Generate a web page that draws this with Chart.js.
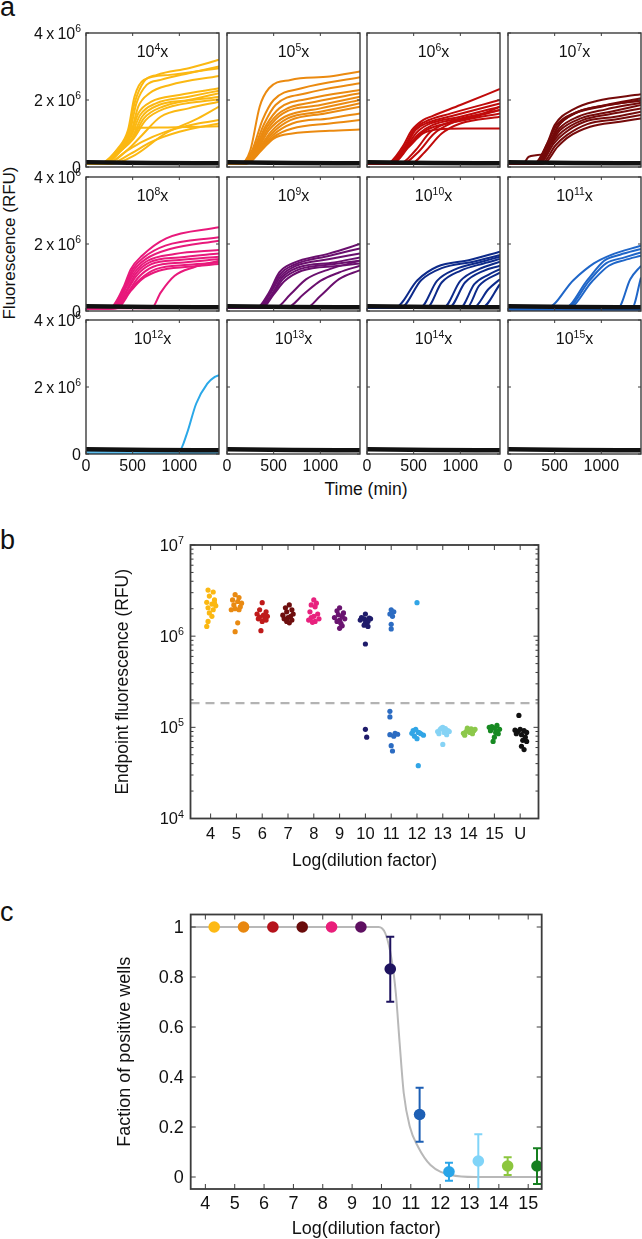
<!DOCTYPE html>
<html>
<head>
<meta charset="utf-8">
<title>Dilution series: amplification, endpoint fluorescence, positive fraction</title>
<script src="https://cdn.jsdelivr.net/npm/chart.js@4.4.1/dist/chart.umd.min.js"></script>
<style>
  html, body { margin: 0; padding: 0; background: #fff; }
  #fig { position: relative; width: 642px; height: 1239px; overflow: hidden; background: #fff;
         font-family: "Liberation Sans", Arial, Helvetica, sans-serif; color: #111; }
  #fig canvas { position: absolute; }
  .txt { position: absolute; white-space: nowrap; line-height: 1; }
  .mid { transform: translate(-50%, -50%); }
  .rot { transform: translate(-50%, -50%) rotate(-90deg); }
</style>
</head>
<body>
<div id="fig">
  <div class="txt" style="left:0;top:-6px;font-size:27px">a</div>
  <div class="txt" style="left:0;top:527px;font-size:27px">b</div>
  <div class="txt" style="left:0;top:899px;font-size:27px">c</div>
  <div class="txt rot" style="left:9px;top:243px;font-size:17px">Fluorescence (RFU)</div>
  <div class="txt mid" style="left:366px;top:490px;font-size:17.5px">Time (min)</div>
</div>
<script>
// ---------- Panel a: amplification curves, [time (min), fluorescence (10^6 RFU)] ----------
const dilutionExp = [4, 5, 6, 7, 8, 9, 10, 11, 12, 13, 14, 15];
const curveColors = ['#FBB812', '#EB8A10', '#C00A0A', '#750A0A', '#E8197B', '#6A0F6E',
                     '#0D2A8A', '#1F66C8', '#2AA8E8', '#7FD3F7', '#8CC63F', '#138A1E'];

const wells1e4 = [
  [[0,.1],[150,.1],[330,.5],[450,.95],[520,1.9],[620,2.55],[760,2.75],[1100,2.95],[1425,3.2]],
  [[0,.1],[160,.1],[340,.5],[460,.95],[540,1.9],[650,2.45],[800,2.6],[1100,2.8],[1425,3.0]],
  [[0,.1],[170,.1],[350,.5],[470,.9],[560,1.8],[680,2.2],[900,2.45],[1425,2.72]],
  [[0,.1],[170,.1],[350,.5],[470,.9],[560,1.6],[700,1.95],[1000,2.15],[1425,2.35]],
  [[0,.1],[180,.1],[360,.5],[480,.9],[580,1.55],[750,1.9],[1100,2.1],[1425,2.28]],
  [[0,.1],[190,.1],[370,.5],[490,.85],[600,1.5],[780,1.85],[1100,2.0],[1425,2.2]],
  [[0,.1],[200,.1],[380,.5],[500,.85],[620,1.45],[820,1.8],[1425,2.1]],
  [[0,.1],[200,.1],[380,.5],[510,.85],[640,1.4],[850,1.75],[1425,2.02]],
  [[0,.1],[180,.1],[360,.55],[450,1.0],[480,1.15],[800,1.18],[1425,1.22]],
  [[0,.1],[220,.1],[420,.45],[600,.75],[850,1.05],[1200,1.3],[1425,1.4]],
  [[0,.1],[250,.1],[480,.4],[700,.75],[1000,1.05],[1425,1.3]],
  [[0,.1],[280,.1],[520,.35],[850,1.0],[1200,1.45],[1425,1.8]],
  [[0,.1],[230,.1],[440,.5],[600,.95],[800,1.5],[1100,1.75],[1425,1.95]],
  [[0,.1],[160,.1],[340,.55],[450,1.1],[520,2.1],[620,2.6],[900,2.75],[1425,2.95]]
];
const wells1e5 = [
  [[0,.1],[140,.1],[250,.5],[350,1.8],[450,2.35],[680,2.6],[1100,2.7],[1425,2.85]],
  [[0,.1],[150,.1],[270,.5],[380,1.4],[500,2.0],[800,2.35],[1425,2.68]],
  [[0,.1],[160,.1],[280,.5],[400,1.3],[520,1.85],[850,2.2],[1425,2.5]],
  [[0,.1],[160,.1],[290,.5],[420,1.25],[560,1.75],[900,2.05],[1425,2.3]],
  [[0,.1],[170,.1],[300,.5],[430,1.2],[580,1.65],[950,1.95],[1425,2.2]],
  [[0,.1],[170,.1],[310,.5],[440,1.15],[600,1.6],[1000,1.85],[1425,2.1]],
  [[0,.1],[180,.1],[320,.5],[450,1.1],[620,1.5],[1000,1.75],[1425,2.0]],
  [[0,.1],[180,.1],[330,.5],[470,1.05],[650,1.45],[1000,1.65],[1425,1.9]],
  [[0,.1],[190,.1],[340,.5],[480,1.0],[680,1.4],[1050,1.6],[1425,1.8]],
  [[0,.1],[200,.1],[350,.5],[490,.95],[700,1.3],[1100,1.45],[1425,1.6]],
  [[0,.1],[200,.1],[360,.5],[500,.9],[700,1.15],[1100,1.3],[1425,1.4]],
  [[0,.1],[210,.1],[370,.5],[500,.85],[700,1.0],[1100,1.08],[1425,1.12]]
];
const wells1e6 = [
  [[0,.1],[210,.1],[380,.6],[480,1.1],[600,1.4],[700,1.52],[1000,1.85],[1425,2.33]],
  [[0,.1],[220,.1],[400,.6],[500,1.1],[620,1.35],[900,1.6],[1425,2.0]],
  [[0,.1],[230,.1],[410,.6],[520,1.1],[650,1.32],[950,1.55],[1425,1.9]],
  [[0,.1],[240,.1],[420,.6],[540,1.05],[680,1.3],[1000,1.5],[1425,1.8]],
  [[0,.1],[250,.1],[430,.6],[560,1.0],[700,1.25],[1000,1.45],[1425,1.7]],
  [[0,.1],[260,.1],[440,.6],[580,1.0],[720,1.2],[1050,1.4],[1425,1.6]],
  [[0,.1],[270,.1],[450,.6],[600,1.0],[750,1.12],[1050,1.15],[1425,1.15]],
  [[0,.1],[350,.1],[520,.5],[680,1.05],[850,1.3],[1150,1.5],[1425,1.7]],
  [[0,.1],[380,.1],[550,.45],[720,1.0],[900,1.3],[1200,1.55],[1425,1.8]],
  [[0,.1],[470,.1],[620,.45],[800,1.0],[1000,1.3],[1425,1.5]]
];
const wells1e7 = [
  [[0,.1],[280,.1],[420,.7],[500,1.25],[700,1.72],[950,1.97],[1425,2.17]],
  [[0,.1],[300,.1],[440,.7],[530,1.2],[720,1.6],[1000,1.8],[1425,2.0]],
  [[0,.1],[310,.1],[450,.7],[550,1.15],[750,1.5],[1050,1.72],[1425,1.92]],
  [[0,.1],[320,.1],[460,.7],[560,1.1],[780,1.45],[1100,1.65],[1425,1.85]],
  [[0,.1],[330,.1],[470,.7],[580,1.05],[800,1.4],[1100,1.58],[1425,1.75]],
  [[0,.1],[340,.1],[490,.7],[600,1.0],[820,1.35],[1150,1.5],[1425,1.65]],
  [[0,.1],[360,.1],[510,.65],[630,.95],[850,1.28],[1150,1.42],[1425,1.55]],
  [[0,.1],[380,.1],[530,.6],[650,.9],[880,1.2],[1200,1.35],[1425,1.45]],
  [[0,.1],[160,.1],[220,.3],[300,.35],[380,.4],[460,.8],[560,1.3],[750,1.65],[1050,1.85],[1425,2.05]],
  [[0,.1],[290,.1],[430,.75],[520,1.25],[720,1.62],[1000,1.82],[1425,1.98]]
];
const wells1e8 = [
  [[0,.08],[250,.08],[400,.7],[480,1.25],[600,1.65],[860,2.17],[1425,2.5]],
  [[0,.08],[260,.08],[410,.7],[500,1.25],[620,1.6],[850,1.95],[1425,2.2]],
  [[0,.08],[270,.08],[420,.7],[510,1.2],[640,1.55],[900,1.85],[1425,2.1]],
  [[0,.08],[280,.08],[430,.7],[520,1.15],[660,1.5],[950,1.7],[1425,1.82]],
  [[0,.08],[290,.08],[440,.65],[530,1.1],[680,1.45],[1000,1.6],[1425,1.72]],
  [[0,.08],[300,.08],[450,.65],[540,1.05],[700,1.4],[1000,1.52],[1425,1.62]],
  [[0,.08],[310,.08],[460,.6],[560,1.0],[720,1.32],[1050,1.45],[1425,1.55]],
  [[0,.08],[320,.08],[470,.6],[580,.95],[750,1.25],[1100,1.38],[1425,1.45]],
  [[0,.08],[700,.08],[800,.55],[950,1.05],[1150,1.3],[1425,1.5]],
  [[0,.08],[330,.08],[480,.6],[600,.95],[780,1.2],[1100,1.32],[1425,1.4]]
];
const wells1e9 = [
  [[0,.1],[320,.1],[450,.55],[560,1.15],[700,1.42],[1100,1.72],[1425,2.0]],
  [[0,.1],[330,.1],[460,.55],[570,1.1],[720,1.38],[1100,1.65],[1425,1.87]],
  [[0,.1],[340,.1],[470,.55],[580,1.05],[740,1.35],[1100,1.55],[1425,1.72]],
  [[0,.1],[350,.1],[480,.5],[590,1.0],[760,1.3],[1150,1.45],[1425,1.6]],
  [[0,.1],[360,.1],[490,.5],[600,.95],[780,1.25],[1150,1.4],[1425,1.5]],
  [[0,.1],[380,.1],[500,.5],[620,.9],[800,1.2],[1200,1.35],[1425,1.42]],
  [[0,.1],[520,.1],[680,.5],[850,.95],[1100,1.25],[1425,1.5]],
  [[0,.1],[640,.1],[820,.5],[1000,.9],[1200,1.15],[1425,1.35]],
  [[0,.1],[850,.1],[1000,.45],[1200,.95],[1425,1.22]]
];
const wells1e10 = [
  [[0,.1],[300,.1],[540,.92],[750,1.32],[1100,1.52],[1425,1.77]],
  [[0,.1],[360,.1],[580,.92],[800,1.28],[1150,1.48],[1425,1.67]],
  [[0,.1],[570,.1],[750,.9],[950,1.25],[1200,1.45],[1425,1.62]],
  [[0,.1],[640,.1],[800,.85],[1000,1.2],[1250,1.42],[1425,1.55]],
  [[0,.1],[820,.1],[1000,.9],[1200,1.25],[1425,1.47]],
  [[0,.1],[880,.1],[1050,.85],[1250,1.2],[1425,1.35]],
  [[0,.1],[1000,.1],[1150,.8],[1300,1.08],[1425,1.25]],
  [[0,.1],[1070,.1],[1200,.75],[1425,1.15]],
  [[0,.1],[1140,.1],[1300,.65],[1425,.95]],
  [[0,.1],[1230,.1],[1425,.8]]
];
const wells1e11 = [
  [[0,.1],[420,.1],[700,.92],[920,1.42],[1100,1.67],[1425,1.95]],
  [[0,.1],[610,.1],[850,.92],[1030,1.5],[1200,1.68],[1425,1.85]],
  [[0,.1],[630,.1],[870,.9],[1050,1.42],[1250,1.6],[1425,1.75]],
  [[0,.1],[650,.1],[900,.88],[1080,1.35],[1250,1.52],[1425,1.65]],
  [[0,.1],[1180,.1],[1310,.95],[1425,1.35]],
  [[0,.1],[1330,.1],[1425,1.0]]
];
const wells1e12 = [
  [[0,.1],[1000,.1],[1080,.6],[1180,1.5],[1300,2.1],[1380,2.3],[1425,2.35]]
];
const wells1e13 = [], wells1e14 = [], wells1e15 = [];
const negWells1e11 = [[[0,.03],[1425,.03]]];
const negWells1e12 = [[[0,.02],[1425,.02]]];
const controlWells = [[0,.14],[700,.12],[1425,.11]];

const timeTicks = [0, 500, 1000];
const timeTickLabels = ['0', '500', '1000'];
const fluorTicks = [0, 2, 4];
const fluorTickLabels = ['0', '2\u2009x\u200910^{6}', '4\u2009x\u200910^{6}'];

// ---------- Panel b: endpoint fluorescence, [jitter offset, RFU] ----------
const bCategories = ['4', '5', '6', '7', '8', '9', '10', '11', '12', '13', '14', '15', 'U'];
const bCategoryPos = [4, 5, 6, 7, 8, 9, 10, 11, 12, 13, 14, 15, 16];
const bColors = ['#FBB812', '#E98A12', '#BF1A1A', '#6E0E0E', '#E8217E', '#6A1470', '#1F1C6B',
                 '#2C6CC2', '#31A5E6', '#86D3F5', '#8CC84B', '#178A22', '#111111'];
const ep4 = [[-.1,3.2e6],[.1,3.05e6],[-.05,2.75e6],[.15,2.5e6],[-.15,2.35e6],[.05,2.25e6],[.2,2.15e6],
             [-.1,2.05e6],[.1,1.95e6],[-.05,1.8e6],[.05,1.65e6],[-.1,1.45e6],[-.15,1.28e6],[.15,2.3e6]];
const ep5 = [[-.05,2.85e6],[.1,2.65e6],[-.15,2.5e6],[.05,2.4e6],[.2,2.3e6],[-.1,2.2e6],[.15,2.1e6],
             [-.05,2.0e6],[.1,1.95e6],[-.2,1.95e6],[.05,1.4e6],[-.05,1.12e6]];
const ep6 = [[0,2.33e6],[-.1,1.95e6],[.15,1.85e6],[-.2,1.75e6],[.05,1.7e6],[.2,1.65e6],[-.1,1.62e6],
             [.1,1.58e6],[-.15,1.55e6],[.15,1.5e6],[0,1.45e6],[-.05,1.15e6]];
const ep7 = [[.05,2.2e6],[-.1,2.05e6],[.15,1.95e6],[-.05,1.85e6],[.2,1.75e6],[-.2,1.7e6],[.1,1.65e6],
             [0,1.6e6],[-.15,1.55e6],[.15,1.5e6],[-.05,1.45e6],[.05,1.4e6]];
const ep8 = [[0,2.5e6],[.1,2.3e6],[-.1,2.2e6],[.05,2.1e6],[-.15,1.85e6],[.15,1.75e6],[0,1.65e6],
             [-.1,1.6e6],[.2,1.55e6],[-.2,1.5e6],[.05,1.45e6],[-.05,1.42e6]];
const ep9 = [[0,2.05e6],[-.1,1.9e6],[.15,1.8e6],[-.05,1.72e6],[.1,1.65e6],[-.2,1.6e6],[.2,1.55e6],
             [0,1.5e6],[-.1,1.45e6],[.05,1.38e6],[.1,1.3e6],[0,1.22e6]];
const ep10 = [[0,1.75e6],[-.15,1.6e6],[.15,1.58e6],[-.05,1.55e6],[.2,1.55e6],[.05,1.5e6],[-.2,1.5e6],
              [.1,1.45e6],[0,1.4e6],[-.05,1.32e6],[.1,1.28e6],[0,8.2e5],[0,9.5e4],[.05,7.8e4]];
const ep11 = [[0,1.95e6],[.1,1.85e6],[-.05,1.75e6],[.05,1.65e6],[0,1.35e6],[0,1.2e6],[-.05,1.5e5],
              [-.05,1.3e5],[-.05,8.3e4],[.15,8.6e4],[.25,8.4e4],[.1,8.0e4],[0,6.3e4],[.05,5.5e4]];
const ep12 = [[0,2.33e6],[-.15,9.2e4],[-.05,9.5e4],[.05,8.8e4],[.15,8.5e4],[.25,8.2e4],[-.1,8.0e4],
              [0,7.5e4],[.1,8.7e4],[-.2,8.6e4],[.05,3.8e4]];
const ep13 = [[-.2,9.0e4],[-.1,9.5e4],[0,1.0e5],[.1,9.7e4],[.2,9.2e4],[-.15,8.5e4],[.05,8.8e4],
              [.15,8.3e4],[0,6.5e4],[-.05,9.8e4],[.25,9.0e4]];
const ep14 = [[-.2,8.6e4],[-.1,9.0e4],[0,9.3e4],[.1,9.6e4],[.2,9.2e4],[-.15,8.2e4],[.05,8.8e4],
              [.15,8.5e4],[-.05,9.8e4],[.25,9.5e4]];
const ep15 = [[-.2,1.0e5],[-.1,1.02e5],[0,9.8e4],[.1,1.05e5],[.2,9.5e4],[-.15,9.2e4],[.05,8.8e4],
              [.15,8.5e4],[0,7.8e4],[-.05,7.0e4],[.1,9.0e4]];
const epU = [[-.05,1.35e5],[-.2,9.3e4],[-.1,9.0e4],[0,9.5e4],[.15,9.2e4],[.25,8.8e4],[-.15,8.5e4],
             [.05,8.3e4],[.2,7.8e4],[.1,7.2e4],[.25,7.0e4],[.05,6.2e4],[.15,5.7e4]];
const detectionThreshold = 1.84e5;
const bYTicks = [1e4, 1e5, 1e6, 1e7];
const bYTickLabels = ['10^{4}', '10^{5}', '10^{6}', '10^{7}'];

// ---------- Panel c: fraction of positive wells ----------
const cLogDilution = [4.3, 5.3, 6.3, 7.3, 8.3, 9.3, 10.3, 11.3, 12.3, 13.3, 14.3, 15.3];
const cFraction = [1, 1, 1, 1, 1, 1, 0.832, 0.25, 0.021, 0.064, 0.044, 0.044];
const cErrLow  = [null, null, null, null, null, null, 0.701, 0.141, -0.015, -0.06, 0.008, -0.028];
const cErrHigh = [null, null, null, null, null, null, 0.961, 0.357, 0.057, 0.171, 0.079, 0.115];
const cColors = ['#FDB914', '#E8870F', '#B5121B', '#6A0B0B', '#E91E7A', '#5E0F61',
                 '#1E135F', '#1D5FB4', '#2AA5E8', '#80D4F8', '#8CC63E', '#157F1F'];
const fitX = [3.5, 9.9, 10.13, 10.35, 10.49, 10.62, 10.76, 10.97, 11.25, 11.67, 12.37, 13.2, 15.46];
const fitY = [1, 1, 0.975, 0.868, 0.735, 0.535, 0.335, 0.2, 0.12, 0.048, 0.008, 0, 0];
const cXTicks = [4, 5, 6, 7, 8, 9, 10, 11, 12, 13, 14, 15];
const cYTicks = [0, 0.2, 0.4, 0.6, 0.8, 1];
const cYTickLabels = ['0', '0.2', '0.4', '0.6', '0.8', '1'];

// ---------- Drawing helpers ----------
const FONT = '"Liberation Sans", Arial, Helvetica, sans-serif';
const frameOpts = new Map();

// '2x10^{6}' -> text runs, superscripts marked
function richParts(label){
  const parts = [], re = /\^\{([^}]*)\}/g;
  let last = 0, m;
  while ((m = re.exec(label))){
    if (m.index > last) parts.push({ t: label.slice(last, m.index), sup: false });
    parts.push({ t: m[1], sup: true });
    last = re.lastIndex;
  }
  if (last < label.length) parts.push({ t: label.slice(last), sup: false });
  return parts;
}

function drawRich(ctx, label, x, yc, align, size){
  const supSize = size * 0.65;
  const parts = richParts(String(label));
  let w = 0;
  parts.forEach(p => {
    ctx.font = `${p.sup ? supSize : size}px ${FONT}`;
    p.w = ctx.measureText(p.t).width;
    w += p.w;
  });
  let cx = align === 'right' ? x - w : align === 'center' ? x - w / 2 : x;
  const base = yc + size * 0.36;
  ctx.textAlign = 'left';
  ctx.textBaseline = 'alphabetic';
  parts.forEach(p => {
    ctx.font = `${p.sup ? supSize : size}px ${FONT}`;
    ctx.fillText(p.t, cx, p.sup ? base - size * 0.42 : base);
    cx += p.w;
  });
}

const framePlugin = {
  id: 'frame',
  afterDatasetsDraw(chart){
    const o = frameOpts.get(chart.canvas);
    if (!o) return;
    const { ctx, chartArea: a, scales: { x, y } } = chart;
    ctx.save();
    ctx.strokeStyle = '#3c3c3c';
    ctx.lineWidth = 1;
    ctx.beginPath();
    o.xTicks.forEach(v => {
      const px = x.getPixelForValue(v);
      ctx.moveTo(px, a.bottom); ctx.lineTo(px, a.bottom - o.tickLen);
      ctx.moveTo(px, a.top); ctx.lineTo(px, a.top + o.tickLen);
    });
    const yTick = (v, len) => {
      const py = y.getPixelForValue(v);
      ctx.moveTo(a.left, py); ctx.lineTo(a.left + len, py);
      ctx.moveTo(a.right, py); ctx.lineTo(a.right - len, py);
    };
    o.yTicks.forEach(v => yTick(v, o.tickLen));
    (o.yMinor || []).forEach(v => yTick(v, o.tickLen * 0.6));
    ctx.stroke();
    ctx.lineWidth = o.boxWidth;
    ctx.strokeRect(a.left, a.top, a.right - a.left, a.bottom - a.top);

    ctx.fillStyle = '#111';
    (o.xLabels || []).forEach((t, i) =>
      drawRich(ctx, t, x.getPixelForValue(o.xTicks[i]), a.bottom + o.xGap, 'center', o.fontSize));
    (o.yLabels || []).forEach((t, i) =>
      drawRich(ctx, t, a.left - o.yGap, y.getPixelForValue(o.yTicks[i]), 'right', o.fontSize));
    if (o.title) drawRich(ctx, o.title, (a.left + a.right) / 2, a.top + o.titleDy, 'center', o.titleSize);
    if (o.xTitle) drawRich(ctx, o.xTitle, (a.left + a.right) / 2, a.bottom + o.xTitleDy, 'center', o.axisTitleSize);
    if (o.yTitle){
      ctx.translate(o.yTitleX, (a.top + a.bottom) / 2);
      ctx.rotate(-Math.PI / 2);
      drawRich(ctx, o.yTitle, 0, 0, 'center', o.axisTitleSize);
    }
    ctx.restore();
  }
};

const errorBarPlugin = {
  id: 'errorBars',
  afterDatasetDraw(chart, args){
    if (args.index !== 1) return;          // right after the fit curve, under the markers
    const { ctx, chartArea: a, scales: { x, y } } = chart;
    ctx.save();
    ctx.beginPath(); ctx.rect(a.left, a.top, a.right - a.left, a.bottom - a.top); ctx.clip();
    ctx.lineWidth = 2;
    cLogDilution.forEach((lx, i) => {
      if (cErrLow[i] == null) return;
      const px = x.getPixelForValue(lx);
      const y0 = y.getPixelForValue(cErrLow[i]), y1 = y.getPixelForValue(cErrHigh[i]);
      ctx.strokeStyle = cColors[i];
      ctx.beginPath();
      ctx.moveTo(px, y0); ctx.lineTo(px, y1);
      ctx.moveTo(px - 4, y0); ctx.lineTo(px + 4, y0);
      ctx.moveTo(px - 4, y1); ctx.lineTo(px + 4, y1);
      ctx.stroke();
    });
    ctx.restore();
  }
};

function addCanvas(left, top, w, h){
  const c = document.createElement('canvas');
  c.width = w; c.height = h;
  c.style.left = left + 'px'; c.style.top = top + 'px';
  c.style.width = w + 'px'; c.style.height = h + 'px';
  document.getElementById('fig').appendChild(c);
  return c;
}

function baseOptions(padding, xScale, yScale){
  return {
    responsive: false, animation: false, devicePixelRatio: 1, events: [],
    layout: { padding },
    plugins: { legend: { display: false }, tooltip: { enabled: false } },
    scales: { x: Object.assign({ display: false }, xScale), y: Object.assign({ display: false }, yScale) }
  };
}

function curveSet(pts, color, width){
  return { type: 'line', data: pts, borderColor: color, borderWidth: width, pointRadius: 0,
           cubicInterpolationMode: 'monotone', fill: false, showLine: true };
}

// ---------- Panel a ----------
const A_LEFT = [86, 227, 367, 508], A_TOP = [33, 177, 320], A_W = 133, A_H = 134;
const A_PAD = { left: 60, right: 1, top: 14, bottom: 24 };
const panelWells = [wells1e4, wells1e5, wells1e6, wells1e7, wells1e8, wells1e9,
                    wells1e10, wells1e11, wells1e12, wells1e13, wells1e14, wells1e15];
const panelNeg = [[], [], [], [], [], [], [], negWells1e11, negWells1e12, [], [], []];

dilutionExp.forEach((exp, i) => {
  const row = Math.floor(i / 4), col = i % 4;
  const cv = addCanvas(A_LEFT[col] - A_PAD.left, A_TOP[row] - A_PAD.top,
                       A_W + A_PAD.left + A_PAD.right, A_H + A_PAD.top + A_PAD.bottom);
  const color = curveColors[i];
  const datasets = [curveSet(controlWells, '#111', 4.5)]
    .concat(panelWells[i].map(w => curveSet(w, color, 2)))
    .concat(panelNeg[i].map(w => curveSet(w, color, 2)));
  frameOpts.set(cv, {
    xTicks: timeTicks, xLabels: row === 2 ? timeTickLabels : [],
    yTicks: fluorTicks, yLabels: col === 0 ? fluorTickLabels : [],
    tickLen: 3, boxWidth: 1.4, fontSize: 16, xGap: 11, yGap: 5,
    title: `10^{${exp}}x`, titleSize: 16, titleDy: 18.5
  });
  new Chart(cv, {
    type: 'line',
    data: { datasets },
    options: baseOptions(A_PAD, { type: 'linear', min: 0, max: 1425 }, { type: 'linear', min: 0, max: 4 }),
    plugins: [framePlugin]
  });
});

// ---------- Panel b ----------
(function(){
  const top = 520, h = 360;
  const pad = { left: 190.5, right: 642 - 538.5, top: 545 - top, bottom: top + h - 818.5 };
  const cv = addCanvas(0, top, 642, h);
  const groups = [ep4, ep5, ep6, ep7, ep8, ep9, ep10, ep11, ep12, ep13, ep14, ep15, epU];
  const xMin = 3.22, xMax = 16.71;
  const datasets = groups.map((g, i) => ({
    type: 'scatter',
    data: g.map(([dx, v]) => [bCategoryPos[i] + dx, v]),
    backgroundColor: bColors[i], borderWidth: 0, pointRadius: 2.6, showLine: false
  }));
  datasets.push({
    type: 'line', data: [[xMin, detectionThreshold], [xMax, detectionThreshold]],
    borderColor: '#b3b3b3', borderWidth: 2.2, borderDash: [9, 6], pointRadius: 0, showLine: true
  });
  const minor = [];
  for (let e = 4; e < 7; e++) for (let m = 2; m <= 9; m++) minor.push(m * Math.pow(10, e));
  frameOpts.set(cv, {
    xTicks: bCategoryPos, xLabels: bCategories,
    yTicks: bYTicks, yLabels: bYTickLabels, yMinor: minor,
    tickLen: 5, boxWidth: 1.8, fontSize: 16.5, xGap: 15, yGap: 6.5,
    xTitle: 'Log(dilution factor)', xTitleDy: 41.5, axisTitleSize: 17.5,
    yTitle: 'Endpoint fluorescence (RFU)', yTitleX: 122
  });
  new Chart(cv, {
    type: 'scatter',
    data: { datasets },
    options: baseOptions(pad, { type: 'linear', min: xMin, max: xMax }, { type: 'logarithmic', min: 1e4, max: 1e7 }),
    plugins: [framePlugin]
  });
})();

// ---------- Panel c ----------
(function(){
  const top = 895, h = 344;
  const pad = { left: 190.7, right: 642 - 541.7, top: 914.5 - top, bottom: top + h - 1189 };
  const cv = addCanvas(0, top, 642, h);
  const datasets = [
    { type: 'scatter', data: cLogDilution.map((x, i) => [x, cFraction[i]]),
      backgroundColor: cColors, borderWidth: 0, pointRadius: 5.8, showLine: false },
    { type: 'line', data: fitX.map((x, i) => [x, fitY[i]]), borderColor: '#b8b8b8', borderWidth: 2,
      pointRadius: 0, cubicInterpolationMode: 'monotone', showLine: true, fill: false }
  ];
  frameOpts.set(cv, {
    xTicks: cXTicks, xLabels: cXTicks.map(String),
    yTicks: cYTicks, yLabels: cYTickLabels,
    tickLen: 5, boxWidth: 1.8, fontSize: 18, xGap: 14, yGap: 7,
    xTitle: 'Log(dilution factor)', xTitleDy: 39, axisTitleSize: 18,
    yTitle: 'Faction of positive wells', yTitleX: 124
  });
  new Chart(cv, {
    type: 'scatter',
    data: { datasets },
    options: baseOptions(pad, { type: 'linear', min: 3.5, max: 15.46 }, { type: 'linear', min: -0.048, max: 1.05 }),
    plugins: [errorBarPlugin, framePlugin]
  });
})();
</script>
</body>
</html>
